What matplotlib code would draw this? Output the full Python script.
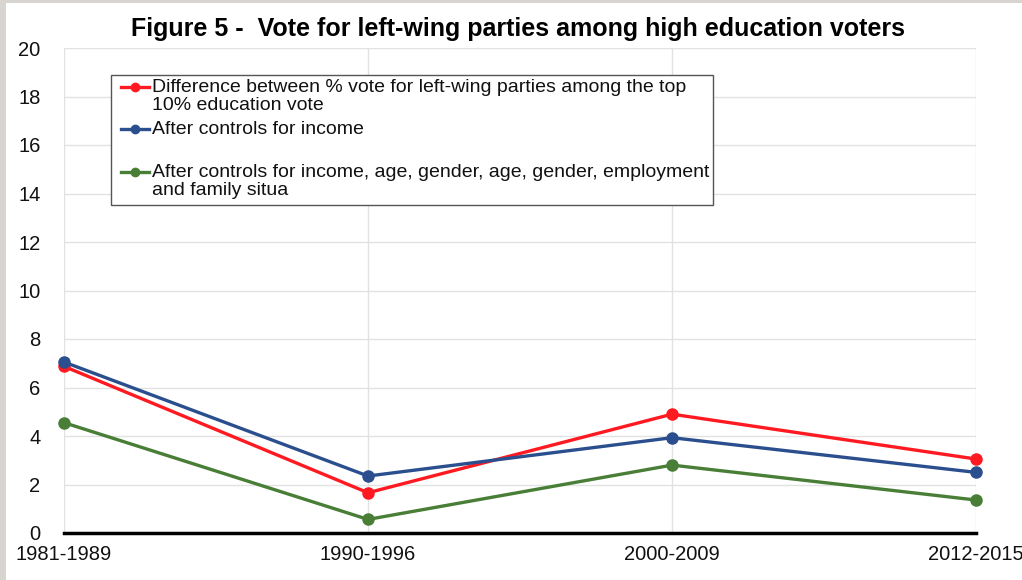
import matplotlib
matplotlib.use("Agg")
import matplotlib.pyplot as plt
from matplotlib.lines import Line2D
from matplotlib.patches import Rectangle

periods = ["1981-1989", "1990-1996", "2000-2009", "2012-2015"]
diff_top10 = [6.87, 1.66, 4.9, 3.05]
ctrl_income = [7.05, 2.35, 3.93, 2.5]
ctrl_all = [4.55, 0.56, 2.8, 1.36]
y_ticks = [0, 2, 4, 6, 8, 10, 12, 14, 16, 18, 20]
labels = [
    "Difference between % vote for left-wing parties among the top\n10% education vote",
    "After controls for income",
    "After controls for income, age, gender, age, gender, employment\nand family situa",
]
colors = ["#FF1A22", "#2B4F8E", "#497E37"]
title = "Figure 5 -  Vote for left-wing parties among high education voters"

plt.rcParams["font.family"] = ["Liberation Sans", "DejaVu Sans"]

W, H = 1022, 580
fig = plt.figure(figsize=(W / 100, H / 100), dpi=100)
fig.patch.set_facecolor("white")

# gray border of the screenshot
fig.patches.append(Rectangle((0, 0), 6 / W, 1, transform=fig.transFigure,
                             facecolor="#D8D5D1", edgecolor="none", zorder=0))
fig.patches.append(Rectangle((0, 1 - 3 / H), 1, 3 / H, transform=fig.transFigure,
                             facecolor="#D8D5D1", edgecolor="none", zorder=0))

x0, x1 = 64, 976
y0, y1 = 533, 48
ax = fig.add_axes([x0 / W, 1 - y0 / H, (x1 - x0) / W, (y0 - y1) / H])
ax.set_facecolor("none")

xs = list(range(len(periods)))
for vals, c in zip([diff_top10, ctrl_income, ctrl_all], colors):
    ax.plot(xs, vals, color=c, lw=2.4, marker="o", ms=8, zorder=3,
            solid_capstyle="round", clip_on=False)

ax.set_xlim(0, len(periods) - 1)
ax.set_ylim(0, 20)
ax.set_yticks(y_ticks)
ax.set_xticks(xs)
ax.set_xticklabels(periods)
ax.tick_params(axis="both", length=0, labelsize=14.5, colors="#111111")
ax.tick_params(axis="y", pad=17)
ax.tick_params(axis="x", pad=9)
ax.grid(True, color="#E2E2E2", lw=1)
ax.set_axisbelow(True)
for s in ["top", "right", "left"]:
    ax.spines[s].set_visible(False)
ax.spines["bottom"].set_color("black")
ax.spines["bottom"].set_linewidth(2.5)

fig.text(518 / W, 1 - 29 / H, title, ha="center", va="center",
         fontsize=18, fontweight="bold")

# legend (manual, to match layout)
fig.patches.append(Rectangle((111 / W, 1 - 205 / H), (713 - 111) / W, (205 - 75) / H,
                             transform=fig.transFigure, facecolor="white",
                             edgecolor="#555555", lw=1, zorder=5))
entry_y = [87, 129, 172]
for lab, c, yy in zip(labels, colors, entry_y):
    fy = 1 - yy / H
    fig.lines.append(Line2D([121 / W, 149 / W], [fy, fy], transform=fig.transFigure,
                            color=c, lw=2.4, zorder=6))
    fig.lines.append(Line2D([135 / W], [fy], transform=fig.transFigure,
                            color=c, marker="o", ms=6, zorder=7))
    fig.text(152 / W, fy + 8 / H, lab, ha="left", va="top", fontsize=14,
             linespacing=1.05, zorder=8, color="#111111")

fig.savefig("out.png", dpi=100)
